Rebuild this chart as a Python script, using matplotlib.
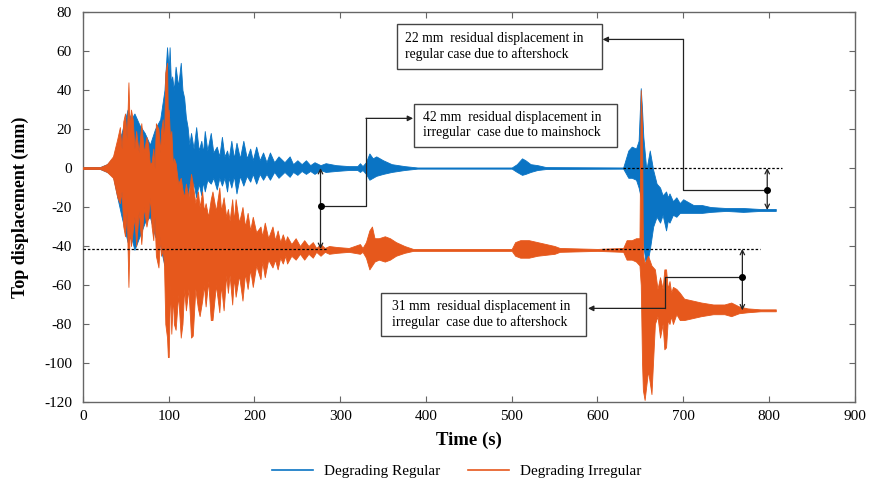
import matplotlib
matplotlib.use("Agg")
import matplotlib.pyplot as plt
from matplotlib.lines import Line2D
from matplotlib.patches import Rectangle

plt.rcParams['font.family'] = ['Liberation Serif', 'DejaVu Serif']
plt.rcParams['axes.unicode_minus'] = False

# ---------------- data (envelopes) ----------------
t_reg = [0, 20, 28, 35, 40, 45, 52, 56, 60, 66, 72, 78, 84, 90, 95,
         98, 100, 101, 102.5, 104, 106, 108, 111, 114, 116, 118, 120, 122, 124, 126, 129,
         132, 135, 138, 140, 142, 145, 149, 152, 156, 159, 162, 165, 168, 170, 173, 176,
         179, 183, 187, 191, 195, 198, 202, 206, 210, 214, 218, 223, 228, 235, 241, 245,
         250, 255, 260, 265, 270, 277, 283, 295,
         310, 320, 323, 326, 330, 334, 338, 342, 350, 360, 375, 390, 500, 506, 512, 516,
         522, 530, 540, 630, 636, 640, 645, 648, 650.5, 652, 653.5, 657, 661,
         665, 669, 673, 676, 680, 682, 684, 688, 692, 696, 700, 712, 722, 732,
         750, 770, 790, 808]
reg_upper = [0.5, 0.5, 2, 5, 12, 18, 30, 25, 28, 22, 18, 12, 20, 25, 40,
             62, 50, 62, 44, 47, 40, 52, 42, 54, 40, 36, 26, 21, 12, 18, 10,
             21, 9, 14, 8, 19, 9, 18, 8, 11, 6, 16, 6, 9, 5, 14, 5,
             13, 5, 14, 5, 10, 4, 11, 4, 8, 3, 8, 3, 6, 3, 6, 2,
             4, 2, 4, 1.5, 3, 1.5, 2.5, 1.5,
             1, 1, 2.5, 1, 3, 7.5, 5, 6, 4, 2, 1, 0.3, 0.3, 2, 5, 4,
             2, 1.5, 0.5, 0.3, 9, 11, 10, 14, 41, 30, 16, -1, 9,
             -1, -8, -10, -14, -12, -15, -13, -17, -15, -18, -16, -19, -19, -20,
             -20.5, -20.5, -21, -21]
reg_lower = [-0.5, -0.5, -2, -4, -15, -25, -38, -35, -42, -35, -28, -25, -35, -40, -50,
             -40, -35, -30, -28, -25, -22, -20, -18, -15, -16, -18, -13, -15, -8, -10, -8,
             -15, -8, -14, -7, -12, -6, -8, -5, -11, -5, -9, -5, -12, -5, -10, -4,
             -13, -4, -9, -4, -7, -3, -8, -3, -6, -3, -6, -2, -5, -2, -4.5, -2,
             -3.5, -1.5, -3, -1.5, -3, -1, -2, -1.5,
             -1, -1, -2, -1, -3, -6, -5, -4, -3, -2, -1, -0.3, -0.3, -2, -3.5, -3,
             -2, -1, -0.5, -0.3, -5, -5, -6, -10, -15, -20, -40, -51, -42,
             -30, -25, -28, -24, -32, -27, -28, -24, -25, -23, -23, -23, -23, -22.5,
             -22, -22.5, -22, -22]

t_irr = [0, 20, 28, 35, 40, 43, 45, 47, 49, 51, 53, 54.5, 56, 58, 60, 62, 65, 68, 71, 74,
         76, 78, 80, 82, 83.5, 85, 88, 90, 91, 93, 94.5,
         96, 98, 99, 100, 101.5, 103, 105, 106, 108, 111, 114, 116, 118, 120, 123, 126,
         128, 131, 134, 136, 139, 141, 143, 146, 149, 151, 155, 159, 161, 164, 167, 169,
         171, 174, 176, 178, 182, 186, 189, 192, 195, 198, 202, 207, 209, 212, 216, 221,
         224, 227, 230, 233, 236, 238, 243, 248, 253, 258, 263, 268, 272, 277, 282, 287,
         296, 310, 323, 326, 330, 334, 337, 340, 345, 352, 358, 365, 375, 385,
         500, 504, 510, 520, 530, 540, 550, 556, 600, 630, 634, 640, 645, 649, 650.5, 652,
         653, 655, 659, 663, 667, 670, 673, 676, 678, 680, 682, 684, 686, 688, 692, 696,
         701, 711, 721, 735, 748, 756, 765, 775, 790, 808]
irr_upper = [0.5, 0.5, 2, 6, 15, 21, 10, 24, 28, 15, 44, 20, 30, 25, 10, 19, 8, 23, 8, 16,
             12, 2, 3, 10, 0, 23, 20, 8, 19, 25, 12,
             49, 54, 25, 30, 15, 19, 0, 5, 2.5, -8, -5, -11, -15, -8, -15, -3,
             -8, -18, -12, -20, -12, -22, -18, -25, -16, -12, -22, -10, -22, -15, -25, -21,
             -27, -16, -27, -16, -28, -20, -30, -23, -32, -25, -33, -30, -35, -28, -36, -30,
             -37, -32, -38, -34, -38, -35, -39, -36, -40, -37, -40, -38, -41, -39, -41, -40,
             -40.5, -41, -39, -41, -38, -32, -30, -36, -36, -35, -36, -38, -40, -41.5,
             -41.5, -38, -37, -37, -38, -39, -40, -41, -41.5, -41, -37, -37, -36, -36, 40, 20,
             -44, -49, -45, -50, -52, -62, -56, -62, -52, -52, -62, -58, -64, -61, -62, -64,
             -67, -68, -69, -70, -70, -69, -71, -72, -72.5, -72.5]
irr_lower = [-0.5, -0.5, -2, -5, -15, -18, -12, -30, -35, -22, -61, -30, -40, -32, -25, -40, -22, -39, -20, -30,
             -25, -15, -30, -37, -25, -45, -51, -35, -45, -42, -50,
             -80, -87, -97, -97, -60, -85, -65, -80, -83, -65, -87, -80, -62, -73, -62, -87,
             -86, -62, -72, -76, -68, -60, -71, -58, -78, -78, -60, -74, -60, -73, -55, -64,
             -55, -70, -56, -66, -55, -68, -54, -62, -52, -61, -50, -57, -48, -56, -47, -51,
             -47, -52, -46, -49, -45, -49, -45, -47, -44, -47, -44, -46, -43, -45, -43, -44,
             -43.5, -43, -44, -43, -46, -52, -50, -48, -47, -48, -47, -45, -43.5, -42.5,
             -42.5, -45, -46, -46, -45, -44.5, -44, -43, -42.5, -43, -47, -47, -48, -50, -60, -100,
             -114, -119, -104, -116, -80, -76, -87, -80, -93, -92, -78, -80, -76, -80, -75, -78,
             -78, -77, -76, -75, -75, -76, -74.5, -74, -73.5, -73.5]

series_names = ['Degrading Regular', 'Degrading Irregular']
series_colors = ['#0A74C4', '#E6581C']

x_ticks = list(range(0, 901, 100))
y_ticks = list(range(-120, 81, 20))

# annotation values
residual_main_irr = -41.5
residual_after_reg = -21.5
residual_after_irr = -73
box_texts = ["22 mm  residual displacement in\nregular case due to aftershock",
             "42 mm  residual displacement in\nirregular  case due to mainshock",
             "31 mm  residual displacement in\nirregular  case due to aftershock"]

# ---------------- figure ----------------
fig = plt.figure(figsize=(8.7, 4.86), dpi=100)
ax = fig.add_axes([0.0954, 0.173, 0.887, 0.802])

ax.fill_between(t_reg, reg_lower, reg_upper, color=series_colors[0], lw=0.6,
                edgecolor=series_colors[0], zorder=2)
ax.fill_between(t_irr, irr_lower, irr_upper, color=series_colors[1], lw=0.6,
                edgecolor=series_colors[1], zorder=3)

ax.set_xlim(0, 900)
ax.set_ylim(-120, 80)
ax.set_xticks(x_ticks)
ax.set_yticks(y_ticks)
ax.tick_params(direction='in', top=True, right=True, labelsize=11, length=4,
               color='#666666')
ax.tick_params(axis='y', pad=8)
ax.tick_params(axis='x', pad=6)
for s in ax.spines.values():
    s.set_color('#666666')
    s.set_linewidth(1.0)
ax.set_xlabel('Time (s)', fontsize=13.5, fontweight='bold', labelpad=6)
ax.set_ylabel('Top displacement (mm)', fontsize=13, fontweight='bold', labelpad=11)

k = 'black'
# dashed reference lines
ax.plot([0, 285], [residual_main_irr] * 2, ls=(0, (2, 1.5)), color=k, lw=0.9, zorder=5)
ax.plot([605, 790], [residual_main_irr] * 2, ls=(0, (2, 1.5)), color=k, lw=0.9, zorder=5)
ax.plot([630, 815], [0, 0], ls=(0, (2, 1.5)), color=k, lw=0.9, zorder=5)

# double arrows
def dbl(x, y0, y1):
    ax.annotate('', xy=(x, y1), xytext=(x, y0),
                arrowprops=dict(arrowstyle='<->', color='#222222', lw=0.9,
                                mutation_scale=8, shrinkA=0, shrinkB=0), zorder=6)

dbl(277, 0, residual_main_irr)
dbl(798, 0, residual_after_reg)
dbl(769, residual_main_irr, residual_after_irr)

# connector lines with dots
def conn(xs, ys, end):
    ax.plot(xs, ys, color='#222222', lw=0.9, zorder=6)
    ax.plot([xs[0]], [ys[0]], 'o', color='black', ms=4, zorder=7)
    ax.annotate('', xy=end, xytext=(xs[-1], ys[-1]),
                arrowprops=dict(arrowstyle='-|>', color='#222222', lw=0.9,
                                mutation_scale=8, shrinkA=0, shrinkB=0), zorder=6)

conn([277, 330, 330], [-19.5, -19.5, 25.5], (385, 25.5))
conn([798, 700, 700], [-11.3, -11.3, 66], (606, 66))
conn([769, 679, 679], [-56, -56, -72], (589, -72))

# boxes
boxes = [(366, 51, 239, 23, 376), (386, 11, 237, 22, 396), (348, -86, 239, 22, 360)]
for (bx, by, bw, bh, tx), txt in zip(boxes, box_texts):
    ax.add_patch(Rectangle((bx, by), bw, bh, facecolor='white', edgecolor='#444444',
                           lw=1.0, zorder=8))
    ax.text(tx, by + bh / 2, txt, fontsize=9.8, va='center', ha='left',
            linespacing=1.2, zorder=9)

handles = [Line2D([0], [0], color=c, lw=1.2) for c in series_colors]
fig.legend(handles, series_names, loc='center', bbox_to_anchor=(0.525, 0.03), ncol=2,
           frameon=False, fontsize=11, handlelength=2.7, columnspacing=1.8,
           handletextpad=0.7)

fig.savefig('out.png', dpi=100)
